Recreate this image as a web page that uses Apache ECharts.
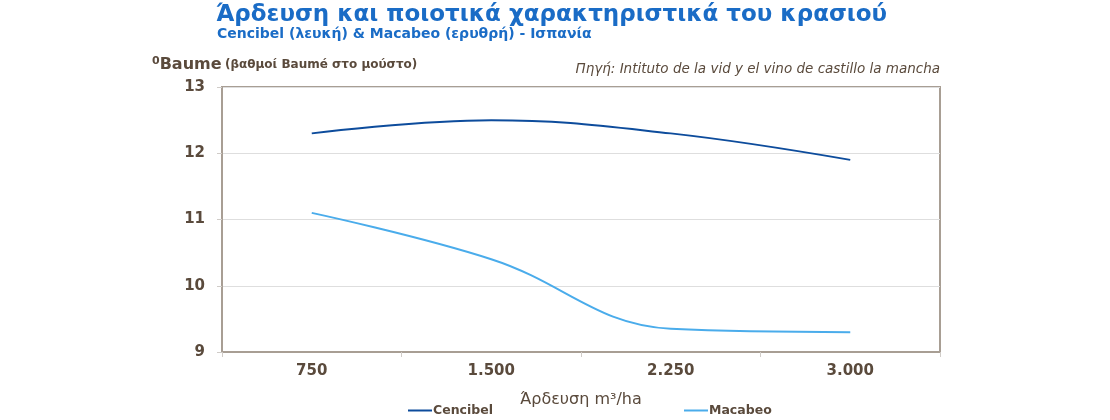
<!DOCTYPE html>
<html><head><meta charset="utf-8">
<script src="https://cdn.jsdelivr.net/npm/echarts@6/dist/echarts.min.js"></script>
<style>html,body{margin:0;padding:0;background:#fff}#c{width:1110px;height:420px}</style>
</head><body><div id="c"></div>
<script>
const categories = ['750', '1.500', '2.250', '3.000'];
const cencibel = [12.3, 12.5, 12.3, 11.9];
const macabeo = [11.1, 10.4, 9.35, 9.3];
const yTicks = [9, 10, 11, 12, 13];

const chart = echarts.init(document.getElementById('c'));
const brown = '#5a4a3c';
const F = 'DejaVu Sans';
chart.setOption({
  backgroundColor: '#fff',
  animation: false,
  title: [{
    text: 'Άρδευση και ποιοτικά χαρακτηριστικά του κρασιού',
    left: 216, top: 4, padding: 0,
    textStyle: {fontFamily: F, fontWeight: 'bold', fontSize: 23, color: '#1a6cc6'}
  }, {
    text: 'Cencibel (λευκή) & Macabeo (ερυθρή) - Ισπανία',
    left: 217, top: 27, padding: 0,
    textStyle: {fontFamily: F, fontWeight: 'bold', fontSize: 14, color: '#1a6cc6'}
  }],
  graphic: [
    {type: 'text', left: 152, top: 56, style: {
      rich: {
        sup: {fontSize: 11, fontWeight: 'bold', fill: brown, fontFamily: F, verticalAlign: 'top', padding:[0,0,6,0]},
        big: {fontSize: 16, fontWeight: 'bold', fill: brown, fontFamily: F},
        small: {fontSize: 12, fontWeight: 'bold', fill: brown, fontFamily: F}
      },
      text: '{sup|0}{big|Baume} {small|(βαθμοί Baumé στο μούστο)}'
    }},
    {type: 'text', right: 170, top: 62, style: {
      text: 'Πηγή: Intituto de la vid y el vino de castillo la mancha',
      fontSize: 13.5, fontStyle: 'italic', fill: brown, fontFamily: F
    }}
  ],
  legend: [
    {data: [{name: 'Cencibel'}], left: 403, top: 399, icon: 'rect', itemWidth: 24, itemHeight: 2,
      textStyle: {fontFamily: F, fontWeight: 'bold', fontSize: 12.5, color: brown, padding: [0,0,0,-4]}},
    {data: [{name: 'Macabeo'}], left: 679, top: 399, icon: 'rect', itemWidth: 24, itemHeight: 2,
      textStyle: {fontFamily: F, fontWeight: 'bold', fontSize: 12.5, color: brown, padding: [0,0,0,-4]}}
  ],
  grid: {left: 222, right: 170, top: 87, bottom: 68, show: true, borderColor: '#a89e94', borderWidth: 2},
  xAxis: {
    type: 'category', data: categories, boundaryGap: true,
    name: 'Άρδευση m³/ha', nameLocation: 'middle', nameGap: 40,
    nameTextStyle: {fontFamily: F, fontSize: 16, color: brown},
    axisLine: {lineStyle: {color: '#a89e94', width: 2}},
    axisTick: {show: true, length: 5, lineStyle: {color: '#d0ccc8'}},
    axisLabel: {fontFamily: F, fontWeight: 'bold', fontSize: 15, color: brown, margin: 12}
  },
  yAxis: {
    type: 'value', min: 9, max: 13, interval: 1,
    axisLine: {show: true, lineStyle: {color: '#a89e94', width: 2}},
    axisTick: {show: true, length: 5, lineStyle: {color: '#d0ccc8'}},
    axisLabel: {fontFamily: F, fontWeight: 'bold', fontSize: 15, color: brown, margin: 17,
      formatter: v => yTicks.includes(v) ? String(v) : ''},
    splitLine: {lineStyle: {color: '#dedede', width: 1}}
  },
  series: [
    {name: 'Cencibel', type: 'line', data: cencibel, smooth: 0.4, showSymbol: false, symbol: 'none',
      lineStyle: {color: '#0d4c9c', width: 2}, itemStyle: {color: '#0d4c9c'}},
    {name: 'Macabeo', type: 'line', data: macabeo, smooth: 0.4, showSymbol: false, symbol: 'none',
      lineStyle: {color: '#4aaceb', width: 2}, itemStyle: {color: '#4aaceb'}}
  ]
});
</script></body></html>
